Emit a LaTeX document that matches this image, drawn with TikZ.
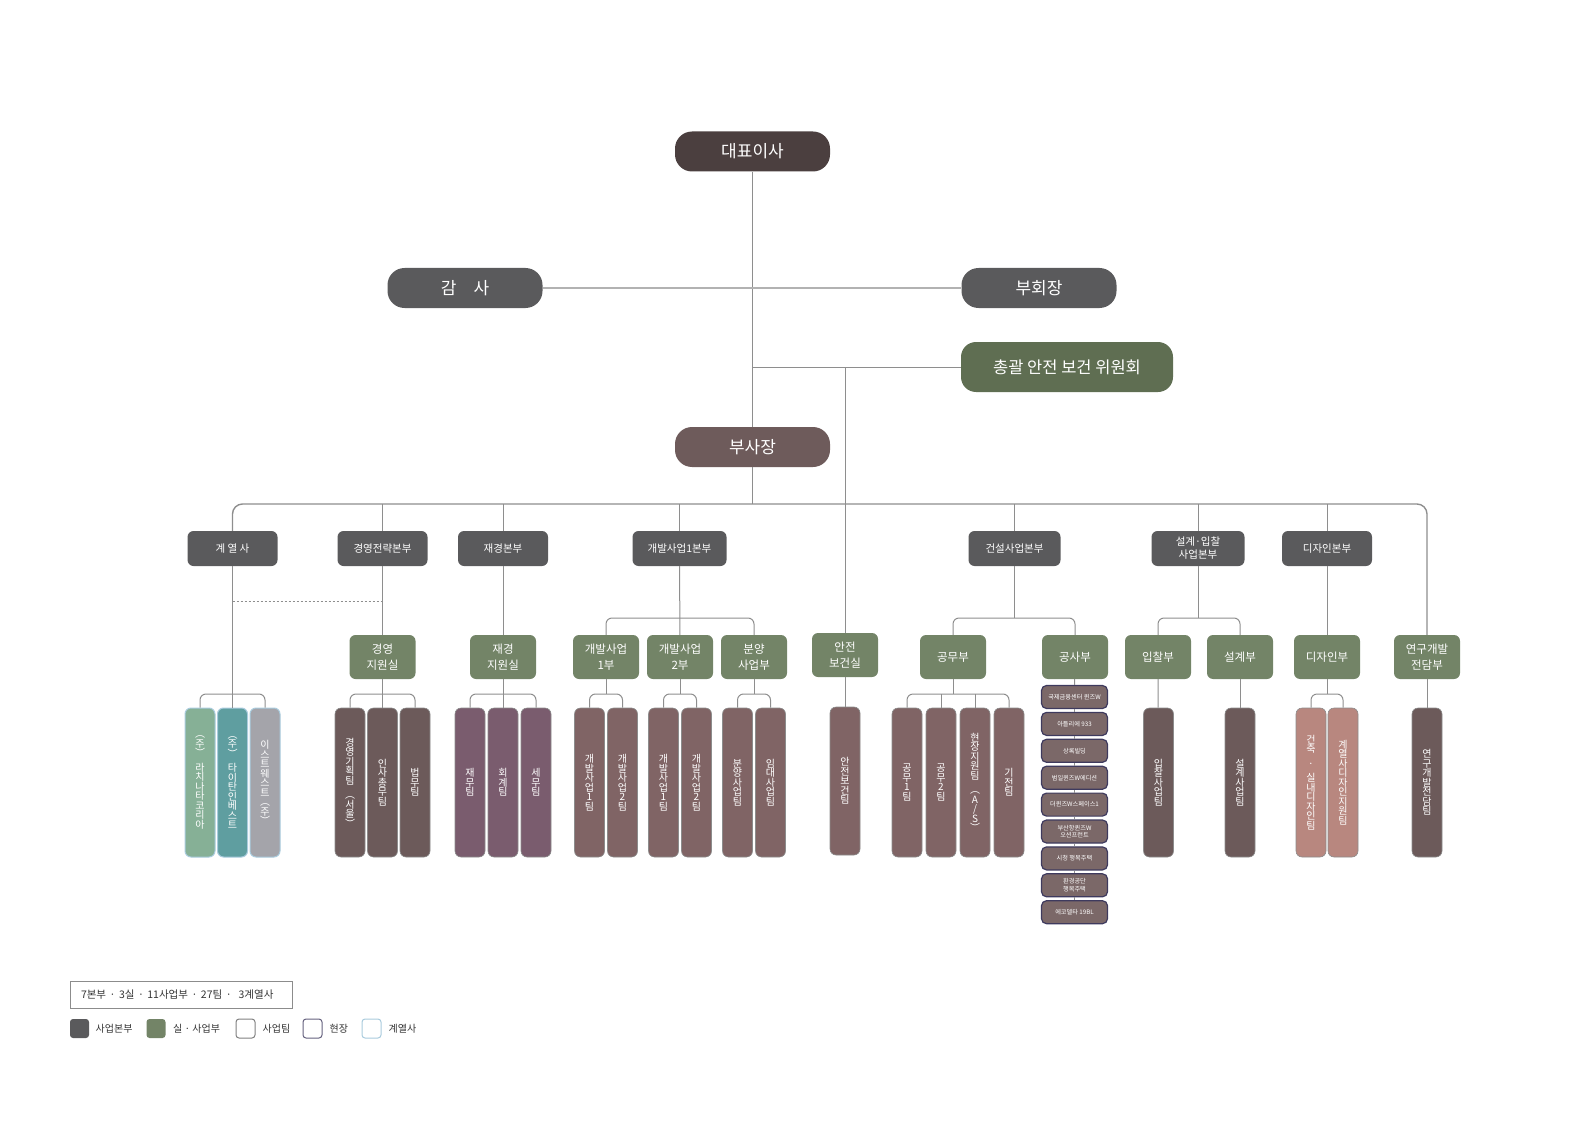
\documentclass[tikz,border=0pt]{standalone}
\usepackage{fontspec}
\setmainfont{Noto Sans CJK KR}
\usetikzlibrary{positioning}

\definecolor{ceobrown}{HTML}{4B3F3F}
\definecolor{hqgray}{HTML}{5A5A5C}
\definecolor{vpbrown}{HTML}{6E5B5B}
\definecolor{cmtgreen}{HTML}{5F6E52}
\definecolor{officegreen}{HTML}{738467}
\definecolor{teamdark}{HTML}{6C5A5A}
\definecolor{teamplum}{HTML}{7A5C6E}
\definecolor{teamrose}{HTML}{806465}
\definecolor{teampink}{HTML}{B8877F}
\definecolor{sitefill}{HTML}{7B6868}
\definecolor{sitenavy}{HTML}{3E3A5E}
\definecolor{affgreen}{HTML}{86B096}
\definecolor{affteal}{HTML}{5F9EA0}
\definecolor{affgray}{HTML}{A4A4AA}
\definecolor{affline}{HTML}{A9CBDD}
\definecolor{linegray}{HTML}{8E8E8E}
\definecolor{keytext}{HTML}{333333}

% stacked (vertical) text for the team bars, ~ gives a small gap
\let\vtEnd\relax
\newcommand\vt[1]{\vbox{\baselineskip=9.5pt\lineskiplimit=-20pt\lineskip=0pt\vtA#1\vtEnd}}
\def\vtA#1{\ifx#1\vtEnd\else\vtB#1\expandafter\vtA\fi}
\def\vtB#1{\ifx#1~\kern-4.5pt\hbox{}\else\hbox to 0pt{\hss#1\hss}\fi}

\tikzset{
  pill/.style={rounded corners=17pt, minimum width=155pt, minimum height=40pt, inner sep=0pt, text=white, font=\fontsize{17}{20}\selectfont},
  hq/.style={fill=hqgray, rounded corners=6pt, minimum width=90pt, minimum height=35pt, inner sep=0pt, text=white, align=center, font=\fontsize{10.5}{13}\selectfont},
  office/.style={fill=officegreen, rounded corners=6pt, minimum width=66pt, minimum height=44pt, inner sep=0pt, text=white, align=center, font=\fontsize{11.5}{15.5}\selectfont},
  team/.style={draw=black!45, line width=0.6pt, rounded corners=6pt, minimum width=30pt, minimum height=149pt, inner sep=0pt, text=white, font=\fontsize{10}{9.5}\selectfont},
  aff/.style={team, draw=affline, line width=1pt},
  site/.style={fill=sitefill, draw=sitenavy, line width=1.2pt, rounded corners=5pt, minimum width=66pt, minimum height=23pt, inner sep=0pt, text=white, align=center, font=\fontsize{6.2}{7.8}\selectfont},
  link/.style={draw=linegray, line width=1pt},
  key/.style={minimum size=19pt, inner sep=0pt, rounded corners=3pt, line width=1pt},
  keylabel/.style={inner sep=0pt, text=keytext, font=\fontsize{10}{12}\selectfont},
}

\begin{document}
\begin{tikzpicture}[x=1pt, y=-1pt]
\useasboundingbox (0,0) rectangle (1587,1123);

% top
\node[pill, fill=ceobrown] (ceo) at (752.5,151.5) {대표이사};
\node[pill, fill=hqgray] (aud) at (465,288) {감\hspace{1em}사};
\node[pill, fill=hqgray] (vc) at (1039,288) {부회장};
\node[pill, fill=cmtgreen, minimum width=212pt, minimum height=50pt, rounded corners=15pt, font=\fontsize{16.5}{19}\selectfont] (cmt) at (1067,367) {총괄 안전 보건 위원회};
\node[pill, fill=vpbrown] (vp) at (752.5,447) {부사장};

\coordinate (bus) at (752.5,504);
\coordinate (yhi) at (0,618);
\coordinate (ylo) at (0,694);
\coordinate (ydot) at (0,601);

% divisions
\node[hq] (aff) at (232.5,548.5) {계 열 사};
\node[hq] (mgt) at (382.5,548.5) {경영전략본부};
\node[hq] (fin) at (503,548.5) {재경본부};
\node[hq, minimum width=94pt] (dev) at (679.5,548.5) {개발사업1본부};
\node[hq, minimum width=92pt] (con) at (1014.5,548.5) {건설사업본부};
\node[hq, minimum width=93pt] (bid) at (1198,548.5) {설계·입찰\\사업본부};
\node[hq] (dsh) at (1327,548.5) {디자인본부};

% offices
\node[office] (mgo) at (382.5,657) {경영\\지원실};
\node[office] (fno) at (503,657) {재경\\지원실};
\node[office] (dv1) at (606,657) {개발사업\\1부};
\node[office] (dv2) at (680,657) {개발사업\\2부};
\node[office] (sal) at (754,657) {분양\\사업부};
\node[office] (sfo) at (845,655) {안전\\보건실};
\node[office] (pub) at (953,657) {공무부};
\node[office] (wrk) at (1075,657) {공사부};
\node[office] (tnd) at (1158,657) {입찰부};
\node[office] (dsg) at (1240,657) {설계부};
\node[office] (dso) at (1327,657) {디자인부};
\node[office] (rnd) at (1427,657) {연구개발\\전담부};

% teams
\node[aff, fill=affgreen] (a1) at (200,782.5) {\vt{︵주︶~라치나타코리아}};
\node[aff, fill=affteal] (a2) at (232.5,782.5) {\vt{︵주︶~타이탄인베스트}};
\node[aff, fill=affgray] (a3) at (265,782.5) {\vt{이스트웨스트︵주︶}};
\node[team, fill=teamdark] (m1) at (350,782.5) {\vt{경영기획팀~︵서울︶}};
\node[team, fill=teamdark] (m2) at (382.5,782.5) {\vt{인사총무팀}};
\node[team, fill=teamdark] (m3) at (415,782.5) {\vt{법무팀}};
\node[team, fill=teamplum] (f1) at (470,782.5) {\vt{재무팀}};
\node[team, fill=teamplum] (f2) at (503,782.5) {\vt{회계팀}};
\node[team, fill=teamplum] (f3) at (536,782.5) {\vt{세무팀}};
\node[team, fill=teamrose] (p1) at (589.5,782.5) {\vt{개발사업1팀}};
\node[team, fill=teamrose] (p2) at (622.5,782.5) {\vt{개발사업2팀}};
\node[team, fill=teamrose] (q1) at (663.5,782.5) {\vt{개발사업1팀}};
\node[team, fill=teamrose] (q2) at (696.5,782.5) {\vt{개발사업2팀}};
\node[team, fill=teamrose] (r1) at (737.5,782.5) {\vt{분양사업팀}};
\node[team, fill=teamrose] (r2) at (770.5,782.5) {\vt{임대사업팀}};
\node[team, fill=teamrose, minimum height=148pt] (sft) at (845,781) {\vt{안전보건팀}};
\node[team, fill=teamrose] (w1) at (907,782.5) {\vt{공무1팀}};
\node[team, fill=teamrose] (w2) at (941,782.5) {\vt{공무2팀}};
\node[team, fill=teamrose] (w3) at (975,782.5) {\vt{현장지원팀~︵A/S︶}};
\node[team, fill=teamrose] (w4) at (1009,782.5) {\vt{기전팀}};
\node[team, fill=teamdark] (tt) at (1158.5,782.5) {\vt{입찰사업팀}};
\node[team, fill=teamdark] (gt) at (1240,782.5) {\vt{설계사업팀}};
\node[team, fill=teampink] (d1) at (1311,782.5) {\vt{건축~·~실내디자인팀}};
\node[team, fill=teampink] (d2) at (1343,782.5) {\vt{계열사디자인지원팀}};
\node[team, fill=teamdark] (rt) at (1427,782.5) {\vt{연구개발전담팀}};

% sites
\foreach \t [count=\i] in {국제금융센터 퀸즈W, 아틀리에 933, 상록빌딩, 범일퀸즈W에디션, 더퀸즈W스페이스1, {부산항퀸즈W\\오션프런트}, 시청 행복주택, {환경공단\\행복주택}, 에코델타 19BL}
  \node[site] (s\i) at (1074.5,670.1+26.9*\i) {\t};

% connectors
\draw[link] (ceo) -- (vp);
\draw[draw=black!30, line width=2pt] (aud) -- (vc);
\draw[link] (ceo |- cmt) -- (cmt);
\draw[link] (sfo |- cmt) -- (sfo);
\draw[link] (vp) -- (bus);
\draw[link, line width=1.4pt, rounded corners=10pt] (aff.north) |- (bus) -| (rnd.north);
\foreach \n in {mgt,fin,dev,con,bid,dsh}
  \draw[link] (\n |- bus) -- (\n);
\draw[link, dash pattern=on 2pt off 2pt] (aff |- ydot) -- (mgt |- ydot);

\draw[link] (mgt) -- (mgo);
\draw[link] (fin) -- (fno);
\draw[link] (dev) -- (dv2);
\draw[link, rounded corners=6pt] (dv1.north) |- (dev |- yhi) -| (sal.north);
\draw[link] (con) -- (con |- yhi);
\draw[link, rounded corners=6pt] (pub.north) |- (con |- yhi) -| (wrk.north);
\draw[link] (bid) -- (bid |- yhi);
\draw[link, rounded corners=6pt] (tnd.north) |- (bid |- yhi) -| (dsg.north);
\draw[link] (dsh) -- (dso);

\draw[link] (aff) -- (a2);
\draw[link, rounded corners=6pt] (a1.north) |- (aff |- ylo) -| (a3.north);
\draw[link] (mgo) -- (m2);
\draw[link, rounded corners=6pt] (m1.north) |- (mgo |- ylo) -| (m3.north);
\draw[link] (fno) -- (f2);
\draw[link, rounded corners=6pt] (f1.north) |- (fno |- ylo) -| (f3.north);
\draw[link] (dv1) -- (dv1 |- ylo);
\draw[link, rounded corners=6pt] (p1.north) |- (dv1 |- ylo) -| (p2.north);
\draw[link] (dv2) -- (dv2 |- ylo);
\draw[link, rounded corners=6pt] (q1.north) |- (dv2 |- ylo) -| (q2.north);
\draw[link] (sal) -- (sal |- ylo);
\draw[link, rounded corners=6pt] (r1.north) |- (sal |- ylo) -| (r2.north);
\draw[link] (sfo) -- (sft);
\draw[link] (pub) -- (pub |- ylo);
\draw[link, rounded corners=6pt] (w1.north) |- (pub |- ylo) -| (w4.north);
\draw[link] (w2 |- ylo) -- (w2);
\draw[link] (w3 |- ylo) -- (w3);
\draw[link] (wrk) -- (s1);
\foreach \i [count=\j from 2] in {1,...,8}
  \draw[link] (s\i) -- (s\j);
\draw[link] (tnd) -- (tt);
\draw[link] (dsg) -- (gt);
\draw[link] (dso) -- (dso |- ylo);
\draw[link, rounded corners=6pt] (d1.north) |- (dso |- ylo) -| (d2.north);
\draw[link] (rnd) -- (rt);

% legend
\node[draw=black!45, line width=1pt, minimum height=27pt, text width=200pt, inner xsep=11pt, inner ysep=0pt, align=left, text=keytext, font=\fontsize{10.5}{12}\selectfont] (sum) at (181,994.5) {7본부 · 3실 · 11사업부 · 27팀 ·~ 3계열사};
\node[key, fill=hqgray] (k1) at (79.5,1028.5) {};
\node[keylabel, right=6pt of k1] (l1) {사업본부};
\node[key, fill=officegreen] (k2) at (156,1028.5) {};
\node[keylabel, right=7pt of k2] (l2) {실 · 사업부};
\node[key, draw=black!50, fill=white] (k3) at (245.5,1028.5) {};
\node[keylabel, right=7pt of k3] (l3) {사업팀};
\node[key, draw=sitenavy!80, fill=white] (k4) at (312.5,1028.5) {};
\node[keylabel, right=7pt of k4] (l4) {현장};
\node[key, draw=affline, fill=white] (k5) at (371.5,1028.5) {};
\node[keylabel, right=7pt of k5] (l5) {계열사};
\end{tikzpicture}
\end{document}
